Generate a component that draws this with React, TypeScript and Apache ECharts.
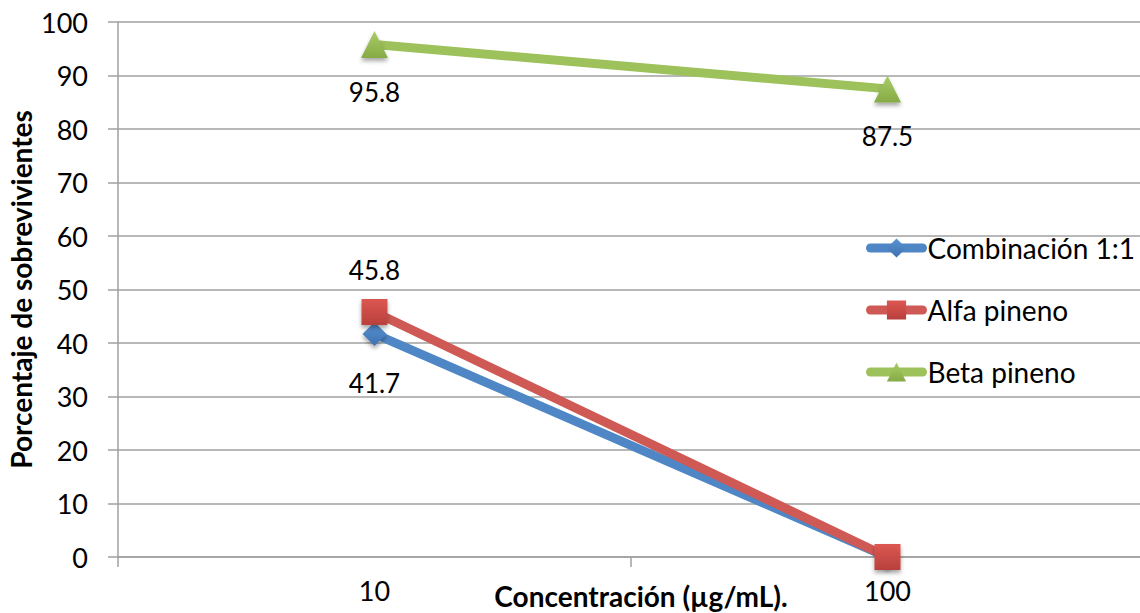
import React, { useEffect, useRef } from "react";
import * as echarts from "echarts";

const concentrations = ["10", "100"];
const combinacion = [41.7, 0];
const alfaPineno = [45.8, 0];
const betaPineno = [95.8, 87.5];
const yTicks = { min: 0, max: 100, interval: 10 };

const FONT = "Lato, 'Liberation Sans', sans-serif";
const AXIS_GRAY = "#A0A0A0";

function grad(top: string, bottom: string) {
  return new echarts.graphic.LinearGradient(0, 0, 0, 1, [
    { offset: 0, color: top },
    { offset: 1, color: bottom },
  ]);
}

export default function App() {
  const ref = useRef<HTMLDivElement>(null);

  useEffect(() => {
    if (!ref.current) return;
    const chart = echarts.init(ref.current, undefined, { renderer: "svg" });

    const markerShadow = {
      shadowBlur: 4,
      shadowColor: "rgba(0,0,0,0.35)",
      shadowOffsetY: 3,
    };
    const labelBase = {
      show: true,
      color: "#000",
      fontFamily: FONT,
      fontSize: 26,
      formatter: (p: any) => (p.value === 0 ? "" : String(p.value)),
    };

    chart.setOption({
      animation: false,
      grid: {
        left: 118,
        right: -4,
        top: 22,
        bottom: 56,
        containLabel: false,
        outerBoundsMode: "none",
      },
      legend: {
        orient: "vertical",
        left: 866,
        top: 234,
        padding: 0,
        itemWidth: 52,
        itemHeight: 24,
        itemGap: 34,
        lineStyle: { width: 9, cap: "round" },
        textStyle: { fontFamily: FONT, fontSize: 28, color: "#000" },
        data: ["Combinación 1:1", "Alfa pineno", "Beta pineno"],
      },
      xAxis: {
        type: "category",
        data: concentrations,
        boundaryGap: true,
        name: "Concentración (µg/mL).",
        nameLocation: "middle",
        nameGap: 25,
        nameMoveOverlap: false,
        nameTextStyle: {
          fontFamily: FONT,
          fontSize: 28,
          fontWeight: "bold",
          color: "#000",
          padding: [0, 0, 0, 20],
        },
        axisLine: { lineStyle: { color: AXIS_GRAY, width: 1.5 } },
        axisTick: { show: true, length: 10, inside: false, lineStyle: { color: AXIS_GRAY, width: 1.5 } },
        axisLabel: { fontFamily: FONT, fontSize: 27, color: "#000", margin: 20 },
        splitLine: { show: false },
      },
      yAxis: {
        type: "value",
        min: yTicks.min,
        max: yTicks.max,
        interval: yTicks.interval,
        name: "Porcentaje de sobrevivientes",
        nameLocation: "middle",
        nameGap: 83,
        nameMoveOverlap: false,
        nameTextStyle: { fontFamily: FONT, fontSize: 28, fontWeight: "bold", color: "#000" },
        axisLine: { show: true, lineStyle: { color: AXIS_GRAY, width: 1.5 } },
        axisTick: { show: true, length: 10, lineStyle: { color: AXIS_GRAY, width: 1.5 } },
        axisLabel: { fontFamily: FONT, fontSize: 27, color: "#000", margin: 30 },
        splitLine: { show: true, lineStyle: { color: AXIS_GRAY, width: 1.5 } },
      },
      series: [
        {
          name: "Combinación 1:1",
          type: "line",
          data: combinacion,
          symbol: "diamond",
          symbolSize: 24,
          lineStyle: { color: "#4F86C6", width: 9, cap: "round" },
          itemStyle: { color: grad("#5B93D3", "#3D71B0"), ...markerShadow },
          label: { ...labelBase, position: "bottom", distance: 24 },
          z: 2,
        },
        {
          name: "Alfa pineno",
          type: "line",
          data: alfaPineno,
          symbol: "rect",
          symbolSize: 26,
          lineStyle: { color: "#CF5955", width: 9, cap: "round" },
          itemStyle: { color: grad("#DD5752", "#B8403C"), ...markerShadow },
          label: { ...labelBase, position: "top", distance: 16 },
          z: 3,
        },
        {
          name: "Beta pineno",
          type: "line",
          data: betaPineno,
          symbol: "triangle",
          symbolSize: 27,
          lineStyle: { color: "#9DC15B", width: 9, cap: "round" },
          itemStyle: { color: grad("#A9CC68", "#86AA45"), ...markerShadow },
          label: { ...labelBase, position: "bottom", distance: 21 },
          z: 4,
        },
      ],
    });

    return () => chart.dispose();
  }, []);

  return (
    <div
      ref={ref}
      style={{ position: "absolute", left: 0, top: 0, width: 1140, height: 613, background: "#fff" }}
    />
  );
}
